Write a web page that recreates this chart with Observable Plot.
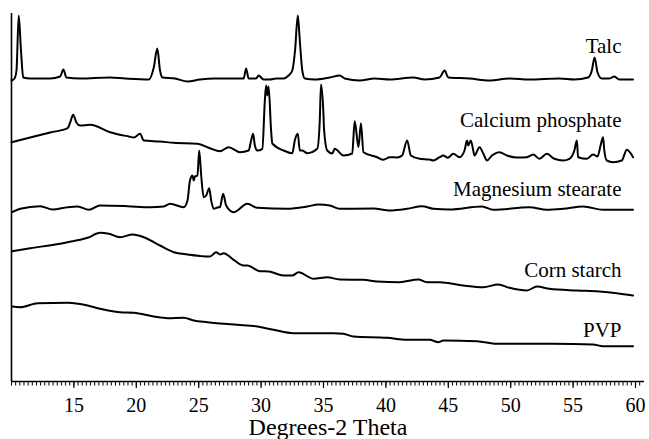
<!DOCTYPE html>
<html><head><meta charset="utf-8">
<script src="https://cdn.jsdelivr.net/npm/d3@7"></script>
<script src="https://cdn.jsdelivr.net/npm/@observablehq/plot@0.6"></script>
<style>
html,body{margin:0;padding:0;background:#fff}
#chart svg, #chart svg text{font-family:'Liberation Serif','Times New Roman',Times,serif !important}
</style>
</head><body><div id="chart"></div>
<script>
const seriesNames = ["Talc", "Calcium phosphate", "Magnesium stearate", "Corn starch", "PVP"];

// [2-theta (degrees), intensity (a.u., stacked)]
const talc = [[10.0,301],[10.24,303],[10.4,311],[10.58,366],[10.76,331],[10.94,304],[11.5,303],[13.1,303],[13.9,305],[14.16,312],[14.4,304],[15.5,303],[17.9,304],[19.1,303],[21.0,302],[21.4,314],[21.68,333],[21.9,311],[22.1,304],[23.1,303],[24.1,300],[25.1,302],[26.3,303],[27.5,303],[28.6,303],[28.8,313],[29.0,303],[29.6,303],[29.8,306],[30.2,302],[30.7,302],[31.2,303],[31.8,303],[32.2,306],[32.5,311],[32.72,331],[32.94,366],[33.1,341],[33.3,311],[33.5,303],[34.3,302],[35.5,304],[36.3,306],[36.7,303],[37.9,301],[39.1,303],[40.3,302],[42.2,304],[43.1,302],[44.3,304],[44.7,311],[45.0,304],[46.7,303],[48.3,301],[49.9,303],[51.5,302],[53.9,303],[55.1,302],[56.2,304],[56.5,311],[56.72,324],[56.96,309],[57.3,303],[57.9,303],[58.3,305],[58.7,302],[59.8,302]];

const calciumPhosphate = [[10.0,239.3],[11.5,244],[13.1,249],[14.5,253.3],[14.7,259],[14.94,266.7],[15.2,259],[15.5,256],[16.3,256.7],[17.9,249.3],[19.4,245],[19.8,244],[20.3,247.7],[20.6,241],[21.9,240],[23.0,238.7],[24.9,237.7],[25.9,233.3],[26.7,230.3],[27.4,234.3],[28.3,229.3],[29.0,231],[29.2,241],[29.36,247.7],[29.5,236],[29.7,231],[30.1,232.7],[30.3,281],[30.4,296],[30.5,286],[30.6,295],[30.8,251],[30.9,238],[31.8,231],[32.5,228.3],[32.7,241],[32.94,247.7],[33.1,231],[33.3,231],[33.7,228.3],[34.5,232.7],[34.7,261],[34.8,297],[35.0,266],[35.04,252.7],[35.3,231],[35.7,228],[35.9,232.7],[36.6,226],[37.3,228],[37.5,260.3],[37.8,234.3],[38.0,258.3],[38.2,229.3],[39.3,224.3],[39.8,221.7],[40.3,224.3],[40.9,224],[41.3,226],[41.7,241],[42.0,226],[42.7,222.7],[43.5,222],[43.8,221],[44.3,224.3],[44.6,226],[44.96,223.7],[45.4,227.7],[45.9,224.3],[46.3,231],[46.5,241],[46.6,236],[46.8,241],[47.0,231],[47.1,226],[47.5,234.3],[47.8,228],[48.1,221],[48.5,226],[48.7,227.7],[49.1,229.3],[49.7,226],[50.5,224],[51.3,224.3],[51.8,227],[52.3,222.7],[52.9,227.7],[53.5,222.7],[54.2,221],[54.7,222.7],[55.1,231],[55.3,241],[55.4,224.3],[56.1,222.7],[56.6,227],[56.96,225],[57.2,236],[57.4,244.3],[57.5,231],[57.7,221],[58.2,219.3],[58.9,221],[59.3,231.7],[59.8,224.3]];

const magnesiumStearate = [[10.05,169.3],[10.7,172.7],[12.3,175.3],[13.3,172],[14.5,174.3],[15.3,175],[16.2,171.7],[17.1,176],[19.3,175.3],[21.1,174.3],[22.2,175],[22.7,177.7],[23.8,174.3],[24.1,181],[24.3,201],[24.5,206],[24.6,201],[24.7,205],[24.9,206],[25.04,231],[25.2,206],[25.4,184.3],[25.6,186],[25.84,193.3],[26.0,181],[26.2,172.7],[26.5,174],[26.7,174.3],[26.96,187.7],[27.2,176],[27.8,169.3],[28.9,177.7],[29.7,173.7],[32.1,172.7],[33.7,175],[34.6,177],[35.5,176],[36.3,172.7],[39.0,173],[40.3,171],[41.7,172.7],[42.9,175.3],[43.8,172.7],[45.1,172],[47.7,175],[48.6,171.7],[51.5,174.3],[52.9,171.7],[54.2,172.7],[55.8,175],[57.4,171.7],[59.8,171.7]];

const cornStarch = [[10.05,130.3],[11.5,133.3],[13.5,137],[14.5,139.3],[16.1,143.7],[17.1,148.7],[17.8,147.7],[18.7,144.3],[19.7,147],[20.6,144.3],[21.4,139.3],[21.9,136],[23.0,129.3],[24.1,127],[25.9,125],[26.4,129.3],[26.7,127],[27.0,128.3],[27.8,121.7],[28.6,116],[28.9,116],[29.9,110.3],[30.6,110],[31.8,106],[32.5,106],[33.0,109.3],[34.2,102.7],[35.3,104.3],[36.3,102],[38.2,101.7],[39.3,100],[41.1,99.3],[42.6,102],[43.3,99.3],[44.3,99.3],[46.2,96],[47.8,94.3],[49.0,97],[49.9,93.7],[51.3,91],[52.1,95],[53.1,92.7],[55.3,91],[57.1,90],[58.5,88.3],[59.8,86]];

const pvp = [[10.05,75],[10.7,74.3],[12.1,78.3],[14.5,78.7],[16.1,76],[17.1,72.7],[18.7,69.3],[19.8,68.7],[21.4,65],[22.5,63.3],[23.8,63.7],[24.6,61],[25.7,59.3],[26.7,58],[28.1,56.7],[29.7,55],[31.0,51.7],[32.6,48.3],[34.7,48.3],[35.8,48.3],[36.6,47.7],[37.4,45],[40.1,43.7],[41.7,41.7],[43.5,41.7],[44.2,39.3],[44.6,41],[47.3,40.3],[48.9,37.7],[53.4,37.7],[56.6,37],[57.4,35.3],[59.8,35.3]];

const labelY = [329, 254.3, 186, 104.3, 45];
const majorTicks = [15, 20, 25, 30, 35, 40, 45, 50, 55, 60];
const xTitle = "Degrees-2 Theta";

const allSeries = [talc, calciumPhosphate, magnesiumStearate, cornStarch, pvp];
const rows = [];
allSeries.forEach((s, i) => s.forEach(([x, y]) => rows.push({series: seriesNames[i], x, y})));
const minorTicks = d3.range(0, 152).map(i => 10 + i / 3).filter(v => v <= 60.72);

const X0 = 10, X1 = 60.72, Y0 = 0, Y1 = 368;
const serif = "'Liberation Serif', 'Times New Roman', Times, serif";

const chart = Plot.plot({
  width: 649, height: 439,
  marginLeft: 11, marginRight: 5, marginTop: 13, marginBottom: 58,
  style: {fontFamily: serif, background: "#fff", color: "#000"},
  x: {domain: [X0, X1], label: null},
  y: {domain: [Y0, Y1], axis: null, label: null},
  marks: [
    Plot.line(rows, {x: "x", y: "y", z: "series", stroke: "#000", strokeWidth: 2, strokeLinejoin: "round", curve: "monotone-x"}),
    Plot.ruleX([X0], {y1: Y0, y2: Y1, stroke: "#000", strokeWidth: 1.6}),
    Plot.ruleY([Y0], {x1: X0, x2: X1, stroke: "#000", strokeWidth: 1.6}),
    Plot.axisX(minorTicks, {tickSize: 4.5, tickFormat: () => "", label: null, strokeWidth: 1}),
    Plot.axisX(majorTicks, {tickSize: 7, tickPadding: 9, fontSize: 20, label: null, strokeWidth: 1.2}),
    Plot.text(seriesNames, {x: () => 58.88, y: (d, i) => labelY[i], text: d => d, textAnchor: "end", lineAnchor: "bottom", fontSize: 21, fill: "#000"}),
    Plot.text([xTitle], {frameAnchor: "bottom", dy: 53, lineAnchor: "bottom", fontSize: 24, fill: "#000"})
  ]
});
document.getElementById("chart").appendChild(chart);
</script>
</body></html>
